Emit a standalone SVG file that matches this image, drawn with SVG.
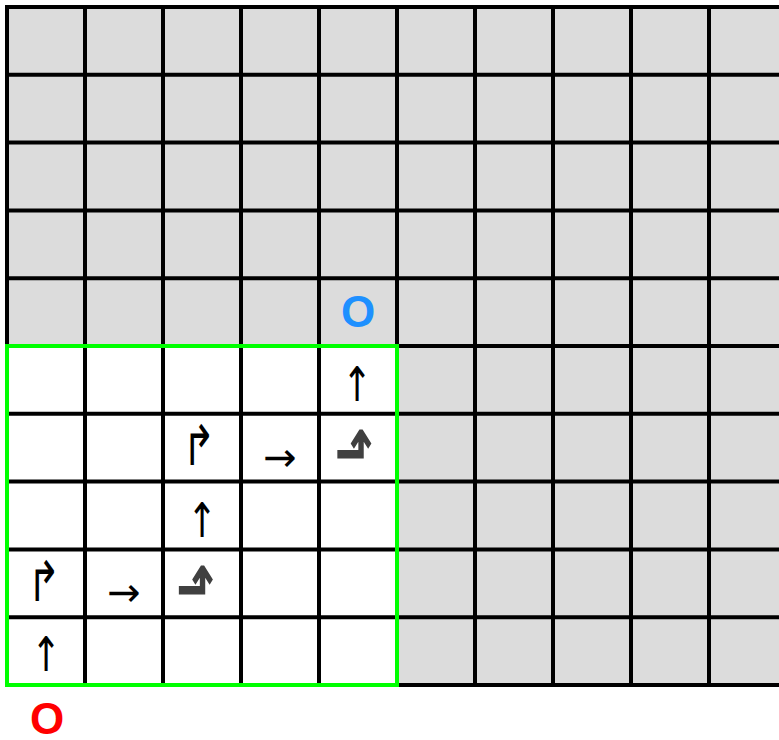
<svg xmlns="http://www.w3.org/2000/svg" width="779" height="740" viewBox="0 0 779 740">
<style>
.grid line{stroke:#000;stroke-width:4}
.up{font-family:"DejaVu Sans",sans-serif;font-size:36px;text-anchor:middle;fill:#000}
.rt{font-family:"DejaVu Sans",sans-serif;font-size:40px;text-anchor:middle;fill:#000}
.tr{font-family:"DejaVu Sans",sans-serif;font-size:32px;text-anchor:middle;fill:#000}
.g{font-family:"DejaVu Sans",sans-serif;font-size:52px;text-anchor:middle;fill:#404040;font-weight:bold}
.o{font-family:"Liberation Sans",sans-serif;font-weight:bold;font-size:44px;text-anchor:middle}
</style>
<rect x="0" y="0" width="779" height="740" fill="#fff"/>
<rect x="7" y="7" width="780" height="678" fill="#dcdcdc"/>
<rect id="region" x="7" y="346" width="390" height="339" fill="#fff"/>
<g class="grid">
<line x1="5" y1="7" x2="779" y2="7"/><line x1="5" y1="74.8" x2="779" y2="74.8"/><line x1="5" y1="142.6" x2="779" y2="142.6"/><line x1="5" y1="210.4" x2="779" y2="210.4"/><line x1="5" y1="278.2" x2="779" y2="278.2"/><line x1="5" y1="346" x2="779" y2="346"/><line x1="5" y1="413.8" x2="779" y2="413.8"/><line x1="5" y1="481.6" x2="779" y2="481.6"/><line x1="5" y1="549.4" x2="779" y2="549.4"/><line x1="5" y1="617.2" x2="779" y2="617.2"/><line x1="5" y1="685" x2="779" y2="685"/>
<line x1="7" y1="5" x2="7" y2="687"/><line x1="85" y1="5" x2="85" y2="687"/><line x1="163" y1="5" x2="163" y2="687"/><line x1="241" y1="5" x2="241" y2="687"/><line x1="319" y1="5" x2="319" y2="687"/><line x1="397" y1="5" x2="397" y2="687"/><line x1="475" y1="5" x2="475" y2="687"/><line x1="553" y1="5" x2="553" y2="687"/><line x1="631" y1="5" x2="631" y2="687"/><line x1="709" y1="5" x2="709" y2="687"/>
</g>
<rect id="border" x="7" y="346" width="390" height="339" fill="none" stroke="#00ff00" stroke-width="4"/>
<g id="arrows">
<text class="up" transform="translate(46,671) scale(1,1.33)">↑</text>
<text class="tr" transform="translate(44,601) scale(1.25,1.73)">↱</text>
<text class="rt" x="124" y="606">→</text>
<text class="g" transform="translate(195.5,613) scale(0.88,1.4)">⬏</text>
<text class="up" transform="translate(202,537) scale(1,1.33)">↑</text>
<text class="tr" transform="translate(199,465) scale(1.25,1.73)">↱</text>
<text class="rt" x="280" y="471">→</text>
<text class="g" transform="translate(354,477) scale(0.88,1.4)">⬏</text>
<text class="up" transform="translate(357,401) scale(1,1.33)">↑</text>
</g>
<text id="goal" class="o" x="358" y="327" fill="#1e90ff">O</text>
<text id="start" class="o" x="47" y="734" fill="#ff0000">O</text>
</svg>
